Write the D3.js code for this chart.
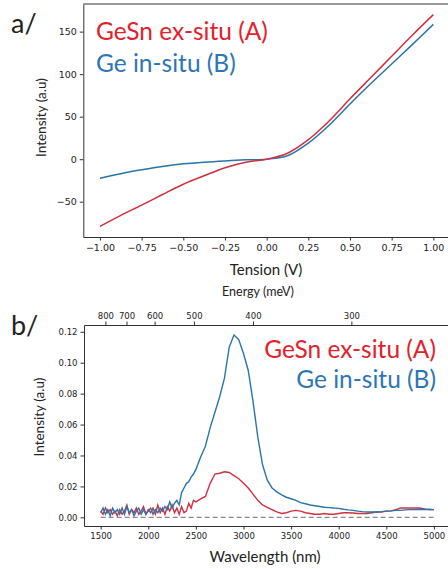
<!DOCTYPE html>
<html>
<head>
<meta charset="utf-8">
<script src="https://cdn.jsdelivr.net/npm/d3@7"></script>
<style>
  body { margin: 0; background: #fff; }
  svg { display: block; }
  .tick text { fill: #222; }
  .tick line, .domain { stroke: #333; }
</style>
</head>
<body>
<div id="chart"></div>
<script>
// ---- panel a : I-V curves ----
var tension = [-1, -0.875, -0.75, -0.625, -0.5, -0.375, -0.25, -0.125, 0,
               0.125, 0.25, 0.375, 0.5, 0.625, 0.75, 0.875, 1];
var ivGeSn = [-79, -66, -54, -41.5, -29.5, -19.5, -10, -3.5, 0,
              7, 23, 45, 71, 96, 121, 146, 170];
var ivGe = [-22.3, -17, -12.5, -8.5, -5.5, -3.5, -2, -0.8, 0,
            4, 19, 40, 65, 89, 112, 135, 158.5];
var tensionTicks = [-1, -0.75, -0.5, -0.25, 0, 0.25, 0.5, 0.75, 1];
var ivTicks = [-50, 0, 50, 100, 150];

// ---- panel b : photoluminescence ----
var wavelength = [1500, 1525, 1550, 1575, 1600, 1625, 1650, 1675, 1700, 1725,
                  1750, 1775, 1800, 1825, 1850, 1875, 1900, 1925, 1950, 1975,
                  2000, 2025, 2050, 2075, 2100, 2125, 2150, 2175, 2200, 2225,
                  2250, 2275, 2300, 2325, 2350, 2375, 2400, 2425, 2450, 2475,
                  2500,
                  2550, 2600, 2650, 2700, 2750, 2800, 2850, 2900, 2950, 3000,
                  3050, 3100, 3150, 3200, 3250, 3300, 3350, 3400, 3450, 3500,
                  3550, 3600, 3650, 3700, 3750, 3800, 3850, 3900, 3950, 4000,
                  4050, 4100, 4150, 4200, 4250, 4300, 4350, 4400, 4450, 4500,
                  4550, 4600, 4650, 4700, 4750, 4800, 4850, 4900, 4950, 5000];
var plGeSn = [0.004, 0.002, 0.006, 0.003, 0.005, 0.002, 0.004, 0.001, 0.005, 0.002,
              0.004, 0.008, 0.002, 0.005, 0.003, 0.006, 0.002, 0.004, 0.007, 0.002,
              0.005, 0.003, 0.006, 0.002, 0.008, 0.003, 0.006, 0.002, 0.007, 0.004,
              0.008, 0.003, 0.006, 0.002, 0.007, 0.003, 0.004, 0.009, 0.006, 0.011,
              0.010,
              0.012, 0.0135, 0.022, 0.028, 0.0285, 0.0295, 0.029, 0.027, 0.025, 0.022,
              0.019, 0.015, 0.011, 0.008, 0.0065, 0.005, 0.0035, 0.0025, 0.003, 0.004,
              0.0045, 0.004, 0.003, 0.0025, 0.002, 0.002, 0.0025, 0.002, 0.002, 0.0025,
              0.003, 0.003, 0.0028, 0.0025, 0.0025, 0.0025, 0.003, 0.0035, 0.0035, 0.004,
              0.0042, 0.005, 0.006, 0.006, 0.006, 0.006, 0.006, 0.0055, 0.005, 0.005];
var plGe = [0.003, 0.006, 0.002, 0.005, 0.001, 0.006, 0.003, 0.005, 0.002, 0.006,
            0.002, 0.007, 0.003, 0.005, 0.001, 0.004, 0.006, 0.002, 0.005, 0.002,
            0.004, 0.006, 0.002, 0.005, 0.003, 0.006, 0.004, 0.007, 0.005, 0.010,
            0.006, 0.009, 0.011, 0.008, 0.016, 0.019, 0.022, 0.023, 0.026, 0.028,
            0.031,
            0.039, 0.046, 0.058, 0.068, 0.078, 0.090, 0.110, 0.118, 0.115, 0.106,
            0.095, 0.075, 0.052, 0.034, 0.024, 0.019, 0.0165, 0.0145, 0.013, 0.012,
            0.011, 0.0095, 0.0088, 0.008, 0.0075, 0.007, 0.0065, 0.0063, 0.006, 0.0058,
            0.0052, 0.0048, 0.0045, 0.004, 0.0037, 0.0035, 0.0035, 0.0035, 0.0037, 0.004,
            0.0042, 0.0045, 0.0045, 0.0048, 0.005, 0.005, 0.0052, 0.005, 0.0052, 0.005];
var wavelengthTicks = [1500, 2000, 2500, 3000, 3500, 4000, 4500, 5000];
var plTicks = [0, 0.02, 0.04, 0.06, 0.08, 0.10, 0.12];
var energyTicks = [800, 700, 600, 500, 400, 300];   // meV, top axis

var red = "#cf3040", blue = "#2a74a8";
var redText = "#e3212d", blueText = "#2e75b6";
var titleFont = "Lato, 'Open Sans', sans-serif";
var tickFont = "'DejaVu Sans', sans-serif";

var svg = d3.select("#chart").append("svg")
    .attr("width", 448)
    .attr("height", 569);

//Panel a scales
var xA = d3.scaleLinear().domain([-1.1, 1.1]).range([83.3, 450]);
var yA = d3.scaleLinear().domain([-91.5, 182.5]).range([237, 4]);

var gA = svg.append("g");

gA.append("line")
    .attr("x1", 83.3).attr("x2", 450)
    .attr("y1", 4).attr("y2", 4)
    .attr("stroke", "#999")
    .attr("stroke-width", 2);

gA.append("g")
    .attr("transform", "translate(0,237)")
    .call(d3.axisBottom(xA).tickValues(tensionTicks).tickFormat(d3.format(".2f"))
        .tickSize(3.5).tickSizeOuter(0).tickPadding(4))
    .call(function(g) { g.selectAll("text").attr("font-family", tickFont).attr("font-size", 9.5); });

gA.append("g")
    .attr("transform", "translate(83.3,0)")
    .call(d3.axisLeft(yA).tickValues(ivTicks).tickSize(3.5).tickSizeOuter(0).tickPadding(3))
    .call(function(g) { g.selectAll("text").attr("font-family", tickFont).attr("font-size", 9.5); });

var lineA = function(vals) {
    return d3.line()
        .x(function(d, i) { return xA(tension[i]); })
        .y(function(d) { return yA(d); })
        .curve(d3.curveCatmullRom)(vals);
};

gA.append("path")
    .attr("d", lineA(ivGe))
    .attr("fill", "none")
    .attr("stroke", blue)
    .attr("stroke-width", 1.5);

gA.append("path")
    .attr("d", lineA(ivGeSn))
    .attr("fill", "none")
    .attr("stroke", red)
    .attr("stroke-width", 1.5);

gA.append("text")
    .attr("font-family", titleFont)
    .attr("font-size", 24.5)
    .attr("fill", redText)
    .attr("x", 96).attr("y", 40)
    .text("GeSn ex-situ (A)");

gA.append("text")
    .attr("font-family", titleFont)
    .attr("font-size", 24.5)
    .attr("fill", blueText)
    .attr("x", 96).attr("y", 71.5)
    .text("Ge in-situ (B)");

gA.append("text")
    .attr("font-family", titleFont)
    .attr("font-size", 13.5)
    .attr("fill", "#222")
    .attr("text-anchor", "middle")
    .attr("transform", "translate(46,117.5) rotate(-90)")
    .text("Intensity (a.u)");

gA.append("text")
    .attr("font-family", titleFont)
    .attr("font-size", 15)
    .attr("fill", "#222")
    .attr("text-anchor", "middle")
    .attr("x", 266).attr("y", 275)
    .text("Tension (V)");

svg.append("text")
    .attr("font-family", titleFont)
    .attr("font-size", 27)
    .attr("fill", "#222")
    .attr("x", 11).attr("y", 33)
    .text("a/");

//Panel b scales
var xB = d3.scaleLinear().domain([1325, 5175]).range([84, 450.6]);
var yB = d3.scaleLinear().domain([-0.0056, 0.1244]).range([526, 325]);

var gB = svg.append("g");

gB.append("g")
    .attr("transform", "translate(0,526)")
    .call(d3.axisBottom(xB).tickValues(wavelengthTicks).tickFormat(d3.format("d"))
        .tickSize(3.5).tickSizeOuter(0).tickPadding(3))
    .call(function(g) { g.selectAll("text").attr("font-family", tickFont).attr("font-size", 8.5); });

gB.append("g")
    .attr("transform", "translate(84,0)")
    .call(d3.axisLeft(yB).tickValues(plTicks).tickFormat(d3.format(".2f"))
        .tickSize(3.5).tickSizeOuter(0).tickPadding(3))
    .call(function(g) { g.selectAll("text").attr("font-family", tickFont).attr("font-size", 8.5); });

// top axis: photon energy, placed at lambda(nm) = 1239840 / E(meV)
gB.append("g")
    .attr("transform", "translate(0,325)")
    .call(d3.axisTop(xB).tickValues(energyTicks.map(function(e) { return 1239840 / e; }))
        .tickFormat(function(l) { return Math.round(1239840 / l); })
        .tickSize(3.5).tickSizeOuter(0).tickPadding(3))
    .call(function(g) { g.selectAll("text").attr("font-family", tickFont).attr("font-size", 8.5); });

gB.append("line")
    .attr("x1", xB(1500)).attr("x2", xB(5000))
    .attr("y1", yB(0)).attr("y2", yB(0))
    .attr("stroke", "#8a8a8a")
    .attr("stroke-width", 1.3)
    .attr("stroke-dasharray", "5,3");

var lineB = function(vals) {
    return d3.line()
        .x(function(d, i) { return xB(wavelength[i]); })
        .y(function(d) { return yB(d); })(vals);
};

gB.append("path")
    .attr("d", lineB(plGeSn))
    .attr("fill", "none")
    .attr("stroke", red)
    .attr("stroke-width", 1.4);

gB.append("path")
    .attr("d", lineB(plGe))
    .attr("fill", "none")
    .attr("stroke", blue)
    .attr("stroke-width", 1.4);

gB.append("text")
    .attr("font-family", titleFont)
    .attr("font-size", 24.5)
    .attr("fill", redText)
    .attr("text-anchor", "end")
    .attr("x", 436).attr("y", 358)
    .text("GeSn ex-situ (A)");

gB.append("text")
    .attr("font-family", titleFont)
    .attr("font-size", 24.5)
    .attr("fill", blueText)
    .attr("text-anchor", "end")
    .attr("x", 436).attr("y", 388)
    .text("Ge in-situ (B)");

gB.append("text")
    .attr("font-family", titleFont)
    .attr("font-size", 13.5)
    .attr("fill", "#222")
    .attr("text-anchor", "middle")
    .attr("transform", "translate(44,417) rotate(-90)")
    .text("Intensity (a.u)");

gB.append("text")
    .attr("font-family", titleFont)
    .attr("font-size", 15)
    .attr("fill", "#222")
    .attr("text-anchor", "middle")
    .attr("x", 265).attr("y", 562)
    .text("Wavelength (nm)");

gB.append("text")
    .attr("font-family", titleFont)
    .attr("font-size", 12.5)
    .attr("fill", "#222")
    .attr("text-anchor", "middle")
    .attr("x", 258).attr("y", 296)
    .text("Energy (meV)");

svg.append("text")
    .attr("font-family", titleFont)
    .attr("font-size", 27)
    .attr("fill", "#222")
    .attr("x", 11).attr("y", 335)
    .text("b/");
</script>
</body>
</html>
